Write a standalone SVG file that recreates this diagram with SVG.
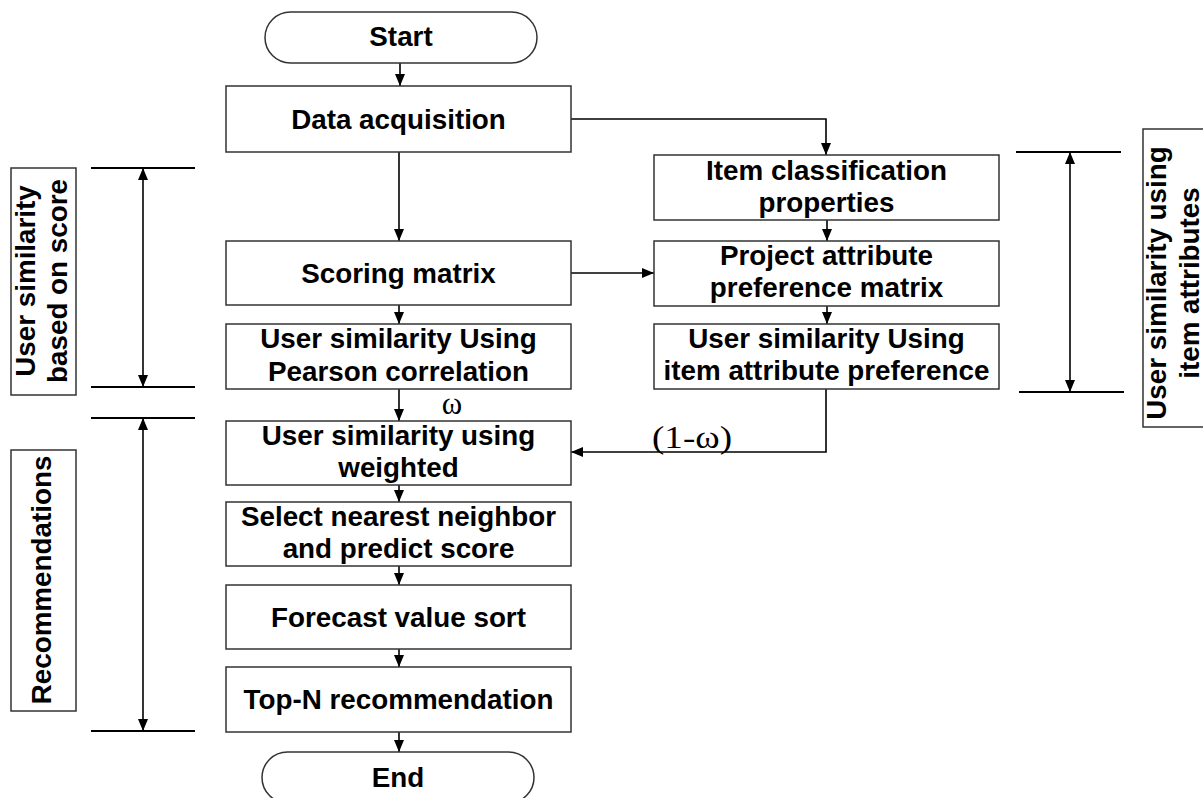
<svg xmlns="http://www.w3.org/2000/svg" width="1203" height="798" viewBox="0 0 1203 798">
<style>
.box{fill:#fff;stroke:#333;stroke-width:1.5}
.t{font-family:"Liberation Sans",Arial,sans-serif;font-weight:bold;font-size:27.8px;fill:#000;text-anchor:middle}
.g{font-family:"Liberation Serif","Times New Roman",serif;font-size:31px;fill:#000}
.c{fill:none;stroke:#000;stroke-width:1.6}
.br{fill:none;stroke:#000;stroke-width:2}
</style>
<defs>
<marker id="ah" viewBox="0 0 12 10" refX="12" refY="5" markerWidth="12" markerHeight="10" markerUnits="userSpaceOnUse" orient="auto-start-reverse">
<path d="M0,0 L12,5 L0,10 Z" fill="#000"/>
</marker>
</defs>
<rect width="1203" height="798" fill="#fff"/>

<g id="connectors">
<path class="c" d="M400,63 V86" marker-end="url(#ah)"/>
<path class="c" d="M399,152 V241" marker-end="url(#ah)"/>
<path class="c" d="M571,119 H826 V155" marker-end="url(#ah)"/>
<path class="c" d="M827,220 V241" marker-end="url(#ah)"/>
<path class="c" d="M571,273 H654" marker-end="url(#ah)"/>
<path class="c" d="M399,305 V324" marker-end="url(#ah)"/>
<path class="c" d="M827,306 V324" marker-end="url(#ah)"/>
<path class="c" d="M399,389 V421" marker-end="url(#ah)"/>
<path class="c" d="M826,389 V452 H571" marker-end="url(#ah)"/>
<path class="c" d="M399,485 V502" marker-end="url(#ah)"/>
<path class="c" d="M399,566 V585" marker-end="url(#ah)"/>
<path class="c" d="M399,649 V667" marker-end="url(#ah)"/>
<path class="c" d="M399,732 V752" marker-end="url(#ah)"/>
<text class="g" x="452" y="414" text-anchor="middle" font-size="30">ω</text>
<text class="g" x="652" y="448" textLength="80" lengthAdjust="spacingAndGlyphs">(1-ω)</text>
</g>

<g id="start"><rect class="box" x="265" y="12" width="272" height="51" rx="25.5"/><text class="t" x="401" y="46">Start</text></g>
<g id="data-acquisition"><rect class="box" x="226" y="86" width="345" height="66"/><text class="t" x="398.5" y="129">Data acquisition</text></g>
<g id="scoring-matrix"><rect class="box" x="226" y="241" width="345" height="64"/><text class="t" x="398.5" y="283">Scoring matrix</text></g>
<g id="pearson"><rect class="box" x="226" y="324" width="345" height="65"/><text class="t" x="398.5" y="348">User similarity Using</text><text class="t" x="398.5" y="381">Pearson correlation</text></g>
<g id="weighted"><rect class="box" x="226" y="421" width="345" height="64"/><text class="t" x="398.5" y="445">User similarity using</text><text class="t" x="398.5" y="477">weighted</text></g>
<g id="nearest"><rect class="box" x="226" y="502" width="345" height="64"/><text class="t" x="398.5" y="526">Select nearest neighbor</text><text class="t" x="398.5" y="558">and predict score</text></g>
<g id="forecast"><rect class="box" x="226" y="585" width="345" height="64"/><text class="t" x="398.5" y="627">Forecast value sort</text></g>
<g id="topn"><rect class="box" x="226" y="667" width="345" height="65"/><text class="t" x="398.5" y="709">Top-N recommendation</text></g>
<g id="end"><rect class="box" x="262" y="752" width="272" height="51" rx="25.5"/><text class="t" x="398" y="787">End</text></g>

<g id="item-classification"><rect class="box" x="654" y="155" width="345" height="65"/><text class="t" x="826.5" y="180">Item classification</text><text class="t" x="826.5" y="212">properties</text></g>
<g id="project-attribute"><rect class="box" x="654" y="241" width="345" height="65"/><text class="t" x="826.5" y="265">Project attribute</text><text class="t" x="826.5" y="297">preference matrix</text></g>
<g id="item-similarity"><rect class="box" x="654" y="324" width="345" height="65"/><text class="t" x="826.5" y="348">User similarity Using</text><text class="t" x="826.5" y="380">item attribute preference</text></g>

<g id="bracket-score">
<path class="br" d="M91,168 H195 M91,387 H195"/>
<path class="c" d="M143,168 V387" marker-start="url(#ah)" marker-end="url(#ah)"/>
<rect class="box" x="11" y="168" width="65" height="227"/>
<text class="t" transform="translate(35,281) rotate(-90)">User similarity</text>
<text class="t" transform="translate(67,281) rotate(-90)">based on score</text>
</g>
<g id="bracket-recommend">
<path class="br" d="M91,418 H195 M91,731 H195"/>
<path class="c" d="M143,418 V731" marker-start="url(#ah)" marker-end="url(#ah)"/>
<rect class="box" x="11" y="450" width="65" height="261"/>
<text class="t" transform="translate(51,580) rotate(-90)">Recommendations</text>
</g>
<g id="bracket-item">
<path class="br" d="M1016,152 H1121 M1019,392 H1124"/>
<path class="c" d="M1070,152 V392" marker-start="url(#ah)" marker-end="url(#ah)"/>
<rect class="box" x="1143" y="129" width="70" height="298"/>
<text class="t" transform="translate(1166,283) rotate(-90)">User similarity using</text>
<text class="t" transform="translate(1199,283) rotate(-90)">item attributes</text>
</g>
</svg>
